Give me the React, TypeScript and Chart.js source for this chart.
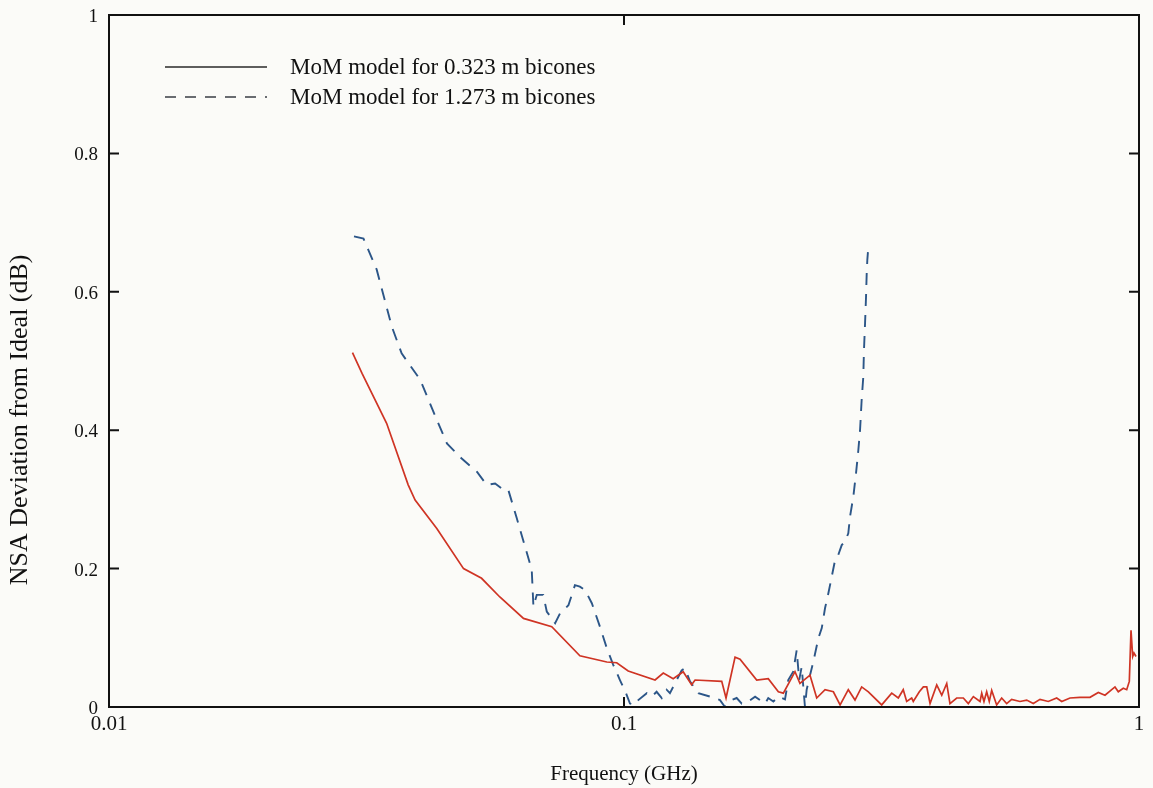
import React, { useEffect, useRef } from "react";
import { Chart, registerables } from "chart.js";

Chart.register(...registerables);

// Axis ticks
const X_TICKS = [0.01, 0.1, 1];
const X_TICK_LABELS = ["0.01", "0.1", "1"];
const Y_TICKS = [0, 0.2, 0.4, 0.6, 0.8, 1];
const Y_TICK_LABELS = ["0", "0.2", "0.4", "0.6", "0.8", "1"];

const X_TITLE = "Frequency (GHz)";
const Y_TITLE = "NSA Deviation from Ideal (dB)";
const LABEL_SMALL = "MoM model for 0.323 m bicones";
const LABEL_LARGE = "MoM model for 1.273 m bicones";

// 0.323 m biconical antennas: frequency (GHz) and NSA deviation (dB)
const FREQ_SMALL = [
  0.0297, 0.031, 0.0346, 0.0381, 0.0393, 0.0433, 0.0488, 0.0529, 0.0574, 0.0638,
  0.0724, 0.0821, 0.0926, 0.0968, 0.1019, 0.1149, 0.1192, 0.1246, 0.1303, 0.1353,
  0.1374, 0.1548, 0.1578, 0.1643, 0.168, 0.181, 0.1906, 0.1994, 0.2039, 0.2148,
  0.2196, 0.2297, 0.2367, 0.2457, 0.255, 0.2628, 0.2726, 0.2809, 0.2894, 0.2982,
  0.3165, 0.331, 0.3409, 0.3485, 0.3539, 0.3619, 0.3645, 0.3745, 0.3813, 0.3871,
  0.3929, 0.4048, 0.414, 0.4233, 0.4295, 0.4426, 0.4559, 0.4662, 0.4768, 0.4913,
  0.495, 0.5, 0.5061, 0.512, 0.5176, 0.5292, 0.5412, 0.5534, 0.5659, 0.5873,
  0.6052, 0.6234, 0.6424, 0.6666, 0.6921, 0.7079, 0.7345, 0.768, 0.8033, 0.8337,
  0.859, 0.8851, 0.8982, 0.9116, 0.9322, 0.9465, 0.9576, 0.9649, 0.9722, 0.9779,
  0.9867,
];
const NSA_SMALL = [
  0.512, 0.482, 0.41, 0.321, 0.299, 0.258, 0.2, 0.186, 0.159, 0.128,
  0.116, 0.074, 0.065, 0.064, 0.052, 0.039, 0.049, 0.041, 0.051, 0.032,
  0.039, 0.037, 0.013, 0.072, 0.069, 0.039, 0.041, 0.022, 0.02, 0.051,
  0.034, 0.046, 0.013, 0.025, 0.022, 0.003, 0.025, 0.01, 0.029, 0.022,
  0.003, 0.02, 0.013, 0.025, 0.008, 0.013, 0.008, 0.022, 0.029, 0.029,
  0.005, 0.032, 0.017, 0.034, 0.005, 0.013, 0.013, 0.005, 0.015, 0.008,
  0.02, 0.008, 0.022, 0.008, 0.024, 0.003, 0.013, 0.005, 0.011, 0.008,
  0.01, 0.005, 0.011, 0.008, 0.013, 0.008, 0.013, 0.014, 0.014, 0.021,
  0.017, 0.025, 0.029, 0.022, 0.027, 0.025, 0.037, 0.111, 0.073, 0.078,
  0.073,
];

// 1.273 m biconical antennas: frequency (GHz) and NSA deviation (dB)
const FREQ_LARGE = [
  0.0299, 0.0312, 0.0331, 0.0354, 0.037, 0.0384, 0.0402, 0.0433, 0.0453, 0.0484,
  0.0518, 0.0541, 0.0562, 0.0583, 0.0596, 0.0619, 0.0647, 0.0662, 0.0667, 0.0677,
  0.0697, 0.0708, 0.0735, 0.0751, 0.078, 0.0803, 0.0821, 0.084, 0.0866, 0.0898,
  0.0926, 0.0953, 0.0982, 0.1009, 0.1027, 0.105, 0.1066, 0.1107, 0.1132, 0.1157,
  0.1184, 0.121, 0.1228, 0.1294, 0.1313, 0.1343, 0.1394, 0.1469, 0.1536, 0.1571,
  0.1619, 0.1655, 0.1693, 0.1743, 0.1797, 0.1837, 0.1879, 0.1906, 0.195, 0.1994,
  0.2054, 0.2084, 0.2131, 0.2164, 0.2189, 0.2213, 0.2246, 0.2263, 0.2297, 0.2331,
  0.2384, 0.2421, 0.2457, 0.2493, 0.2531, 0.2569, 0.2607, 0.2647, 0.2686, 0.2726,
  0.2747, 0.2788, 0.2822, 0.2851, 0.2873, 0.2894, 0.2915, 0.2924, 0.2938, 0.2951,
  0.296, 0.2968, 0.2978,
];
const NSA_LARGE = [
  0.68, 0.677, 0.632, 0.55, 0.511, 0.494, 0.473, 0.415, 0.381, 0.359,
  0.34, 0.321, 0.323, 0.314, 0.314, 0.273, 0.224, 0.198, 0.145, 0.162,
  0.162, 0.138, 0.121, 0.135, 0.147, 0.176, 0.174, 0.169, 0.15, 0.116,
  0.085, 0.061, 0.039, 0.02, 0.005, 0.003, 0.01, 0.02, 0.015, 0.022,
  0.013, 0.025, 0.02, 0.053, 0.056, 0.037, 0.02, 0.015, 0.01, 0.0,
  0.01, 0.013, 0.005, 0.008, 0.015, 0.01, 0.005, 0.013, 0.008, 0.015,
  0.011, 0.039, 0.051, 0.082, 0.039, 0.058, 0.0, 0.025, 0.046, 0.065,
  0.099, 0.114, 0.143, 0.164, 0.188, 0.212, 0.22, 0.234, 0.239, 0.251,
  0.275, 0.304, 0.338, 0.371, 0.4, 0.444, 0.477, 0.516, 0.554, 0.593,
  0.627, 0.646, 0.66,
];

const RED = "#cf3424";
const BLUE = "#2c5688";
const INK = "#111111";
const PAPER = "#fbfbf8";
const SERIF = "'Liberation Serif', 'Times New Roman', serif";

// Paper background, closed frame with inward ticks, y-axis title and the inset key
const framePlugin = {
  id: "frame",
  beforeDraw(chart: any) {
    const { ctx, width, height } = chart;
    ctx.save();
    ctx.fillStyle = PAPER;
    ctx.fillRect(0, 0, width, height);
    ctx.restore();
  },
  afterDatasetsDraw(chart: any) {
    const { ctx, chartArea: a, scales } = chart;
    ctx.save();
    ctx.strokeStyle = INK;
    ctx.lineWidth = 2;
    ctx.strokeRect(a.left, a.top, a.right - a.left, a.bottom - a.top);
    const tick = 10;
    ctx.beginPath();
    X_TICKS.slice(1, -1).forEach((v) => {
      const px = scales.x.getPixelForValue(v);
      ctx.moveTo(px, a.bottom);
      ctx.lineTo(px, a.bottom - tick);
      ctx.moveTo(px, a.top);
      ctx.lineTo(px, a.top + tick);
    });
    Y_TICKS.slice(1, -1).forEach((v) => {
      const py = scales.y.getPixelForValue(v);
      ctx.moveTo(a.left, py);
      ctx.lineTo(a.left + tick, py);
      ctx.moveTo(a.right, py);
      ctx.lineTo(a.right - tick, py);
    });
    ctx.stroke();

    // y-axis title, set a little below the middle of the axis
    ctx.save();
    ctx.translate(20, scales.y.getPixelForValue(0.415));
    ctx.rotate(-Math.PI / 2);
    ctx.fillStyle = INK;
    ctx.font = `26px ${SERIF}`;
    ctx.textAlign = "center";
    ctx.textBaseline = "middle";
    ctx.fillText(Y_TITLE, 0, 0);
    ctx.restore();

    // key
    const keyX0 = 165;
    const keyX1 = 267;
    const textX = 290;
    const rows = [
      { y: 67, dash: [] as number[], color: "#2a2a2a" },
      { y: 97, dash: [11, 9], color: "#3a3e44" },
    ];
    chart.data.datasets.forEach((ds: any, i: number) => {
      const r = rows[i];
      ctx.beginPath();
      ctx.setLineDash(r.dash);
      ctx.strokeStyle = r.color;
      ctx.lineWidth = 1.4;
      ctx.moveTo(keyX0, r.y);
      ctx.lineTo(keyX1, r.y);
      ctx.stroke();
      ctx.setLineDash([]);
      ctx.fillStyle = INK;
      ctx.font = `23px ${SERIF}`;
      ctx.textAlign = "left";
      ctx.textBaseline = "middle";
      ctx.fillText(ds.label, textX, r.y + 1);
    });
    ctx.restore();
  },
};

export default function App() {
  const canvasRef = useRef<HTMLCanvasElement | null>(null);

  useEffect(() => {
    const canvas = canvasRef.current;
    if (!canvas) return;
    Chart.defaults.font.family = SERIF;
    Chart.defaults.color = INK;

    const chart = new Chart(canvas, {
      type: "line",
      data: {
        datasets: [
          {
            label: LABEL_SMALL,
            data: FREQ_SMALL.map((f, i) => ({ x: f, y: NSA_SMALL[i] })),
            borderColor: RED,
            borderWidth: 1.7,
            pointRadius: 0,
            tension: 0,
            fill: false,
          },
          {
            label: LABEL_LARGE,
            data: FREQ_LARGE.map((f, i) => ({ x: f, y: NSA_LARGE[i] })),
            borderColor: BLUE,
            borderWidth: 1.9,
            borderDash: [12, 9],
            pointRadius: 0,
            tension: 0,
            fill: false,
          },
        ],
      },
      options: {
        responsive: false,
        animation: false,
        events: [],
        layout: { padding: { top: 15, right: 14, left: 0, bottom: 0 } },
        plugins: {
          legend: { display: false },
          tooltip: { enabled: false },
        },
        scales: {
          x: {
            type: "logarithmic",
            min: 0.01,
            max: 1,
            grid: { display: false },
            border: { display: false },
            afterBuildTicks: (scale: any) => {
              scale.ticks = X_TICKS.map((v) => ({ value: v }));
            },
            afterFit: (scale: any) => {
              scale.height = 81;
            },
            ticks: {
              autoSkip: false,
              maxRotation: 0,
              padding: -3,
              font: { size: 21 },
              callback: (v: any) => {
                const i = X_TICKS.findIndex((t) => Math.abs(t - Number(v)) < 1e-9);
                return i >= 0 ? X_TICK_LABELS[i] : "";
              },
            },
            title: {
              display: true,
              text: X_TITLE,
              font: { size: 21 },
              padding: { top: 0, bottom: 1 },
            },
          },
          y: {
            type: "linear",
            min: 0,
            max: 1,
            grid: { display: false },
            border: { display: false },
            afterBuildTicks: (scale: any) => {
              scale.ticks = Y_TICKS.map((v) => ({ value: v }));
            },
            afterFit: (scale: any) => {
              scale.width = 109;
            },
            ticks: {
              padding: 3,
              labelOffset: 2,
              font: { size: 19 },
              callback: (v: any) => {
                const i = Y_TICKS.findIndex((t) => Math.abs(t - Number(v)) < 1e-9);
                return i >= 0 ? Y_TICK_LABELS[i] : "";
              },
            },
          },
        },
      },
      plugins: [framePlugin],
    });
    return () => chart.destroy();
  }, []);

  return (
    <div style={{ position: "absolute", left: 0, top: 0, width: 1153, height: 788, background: PAPER }}>
      <canvas ref={canvasRef} width={1153} height={788} style={{ display: "block" }} />
    </div>
  );
}
